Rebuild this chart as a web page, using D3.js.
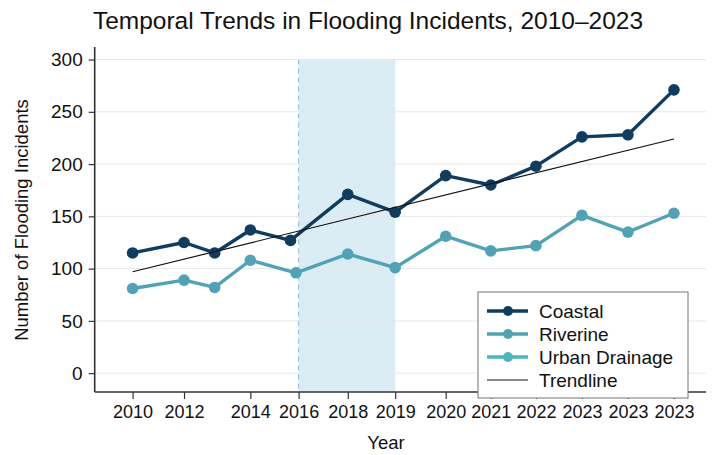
<!DOCTYPE html>
<meta charset="utf-8">
<head>
    <title>Flooding incidents</title>
    <style>
        body { margin: 0; background: #fff; }
        text { font-family: "Liberation Sans", Arial, sans-serif; fill: #111; }
    </style>
</head>
<body>
<div id="my_dataviz"></div>
<script src="https://d3js.org/d3.v7.min.js"></script>
<script>

    // values (x is the plotted position along the axis)
    var coastalX   = [0, 1.14, 1.82, 2.61, 3.5, 4.77, 5.82, 6.94, 7.94, 8.94, 9.96, 10.98, 12];
    var coastalY   = [115, 125, 115, 137, 127, 171, 154, 189, 180, 198, 226, 228, 271];
    var riverineX  = [0, 1.14, 1.82, 2.61, 3.62, 4.77, 5.82, 6.94, 7.94, 8.94, 9.96, 10.98, 12];
    var riverineY  = [81, 89, 82, 108, 96, 114, 101, 131, 117, 122, 151, 135, 153];
    var urbanX = [];
    var urbanY = [];
    var trendX = [0, 12];
    var trendY = [97, 224];

    var tickPos    = [0, 1.14, 2.61, 3.68, 4.77, 5.82, 6.94, 7.94, 8.94, 9.96, 10.98, 12];
    var tickLabels = ["2010", "2012", "2014", "2016", "2018", "2019", "2020", "2021", "2022", "2023", "2023", "2023"];
    var yTicks = [0, 50, 100, 150, 200, 250, 300];

    var shadeFrom = 3.68, shadeTo = 5.82;

    var seriesNames = ["Coastal", "Riverine", "Urban Drainage", "Trendline"];
    var coastalColor = "#0f3d61",
        riverColor = "#4fa3b9",
        urbanColor = "#49b7c1";

    var width = 713, height = 455;
    var svg = d3.select("#my_dataviz")
        .append("svg")
        .attr("width", width)
        .attr("height", height);

    var x = d3.scaleLinear().domain([-0.84, 12.71]).range([94.7, 706]);
    var y = d3.scaleLinear().domain([-18, 312]).range([392, 47]);

    // shaded period + dashed marker
    svg.append("rect")
        .attr("x", x(shadeFrom))
        .attr("y", y(300))
        .attr("width", x(shadeTo) - x(shadeFrom))
        .attr("height", y(-18) - y(300))
        .style("fill", "#daedf4");
    svg.append("line")
        .attr("x1", x(shadeFrom)).attr("x2", x(shadeFrom))
        .attr("y1", y(300)).attr("y2", y(-18))
        .style("stroke", "#98c9d9")
        .style("stroke-width", 1.2)
        .style("stroke-dasharray", "5,4");

    // grid
    svg.append("g")
        .selectAll("line")
        .data(yTicks)
        .enter()
        .append("line")
        .attr("x1", x(-0.84)).attr("x2", x(12.71))
        .attr("y1", function(d) { return y(d) })
        .attr("y2", function(d) { return y(d) })
        .style("stroke", "#e6e6e6")
        .style("stroke-width", 1);

    // axes
    var yAxis = svg.append("g")
        .attr("transform", "translate(" + x(-0.84) + ",0)")
        .call(d3.axisLeft(y).tickValues(yTicks).tickSize(6).tickPadding(6));
    var xAxis = svg.append("g")
        .attr("transform", "translate(0," + y(-18) + ")")
        .call(d3.axisBottom(x).tickValues(tickPos).tickSize(7).tickPadding(6)
            .tickFormat(function(d, i) { return tickLabels[i] }));
    [xAxis, yAxis].forEach(function(a) {
        a.select(".domain").style("stroke", "#333").style("stroke-width", 1.6)
        a.selectAll(".tick line").style("stroke", "#333").style("stroke-width", 1.2)
        a.selectAll("text").style("font-size", "18px").style("font-family", "Liberation Sans, Arial, sans-serif").style("fill", "#111")
    });
    // the L-shaped frame has no outer tick ends
    yAxis.select(".domain").attr("d", "M0," + y(312) + "V" + y(-18));
    xAxis.select(".domain").attr("d", "M" + x(-0.84) + ",0H" + x(12.71));
    yAxis.selectAll("text").style("font-size", "19px");

    // lines
    function drawSeries(xs, ys, color) {
        var pts = xs.map(function(v, i) { return [v, ys[i]] });
        svg.append("path")
            .datum(pts)
            .attr("d", d3.line().x(function(d) { return x(d[0]) }).y(function(d) { return y(d[1]) }))
            .style("fill", "none")
            .style("stroke", color)
            .style("stroke-width", 3.4)
            .style("stroke-linejoin", "round");
        svg.selectAll()
            .data(pts)
            .enter()
            .append("circle")
            .attr("cx", function(d) { return x(d[0]) })
            .attr("cy", function(d) { return y(d[1]) })
            .attr("r", 5.8)
            .style("fill", color);
    }
    drawSeries(riverineX, riverineY, riverColor);
    drawSeries(urbanX, urbanY, urbanColor);
    drawSeries(coastalX, coastalY, coastalColor);

    svg.append("line")
        .attr("x1", x(trendX[0])).attr("y1", y(trendY[0]))
        .attr("x2", x(trendX[1])).attr("y2", y(trendY[1]))
        .style("stroke", "#111")
        .style("stroke-width", 1.2);

    // titles
    svg.append("text")
        .attr("x", 368).attr("y", 29)
        .style("text-anchor", "middle")
        .style("font-size", "24.5px")
        .text("Temporal Trends in Flooding Incidents, 2010\u20132023");
    svg.append("text")
        .attr("transform", "translate(28,220) rotate(-90)")
        .style("text-anchor", "middle")
        .style("font-size", "18.5px")
        .text("Number of Flooding Incidents");
    svg.append("text")
        .attr("x", 386).attr("y", 449)
        .style("text-anchor", "middle")
        .style("font-size", "18.5px")
        .text("Year");

    // legend
    var legendColors = [coastalColor, riverColor, urbanColor, "#111"];
    var lg = svg.append("g").attr("transform", "translate(478,292)");
    lg.append("rect")
        .attr("width", 210).attr("height", 106)
        .style("fill", "#fff")
        .style("stroke", "#777")
        .style("stroke-width", 1);
    var item = lg.selectAll(".item")
        .data(seriesNames)
        .enter()
        .append("g")
        .attr("transform", function(d, i) { return "translate(0," + (19 + i * 23) + ")" });
    item.append("line")
        .attr("x1", 9).attr("x2", 50)
        .style("stroke", function(d, i) { return legendColors[i] })
        .style("stroke-width", function(d, i) { return i == 3 ? 1.2 : 3.4 });
    item.filter(function(d, i) { return i < 3 })
        .append("circle")
        .attr("cx", 30).attr("r", 5)
        .style("fill", function(d, i) { return legendColors[i] });
    item.append("text")
        .attr("x", 61).attr("y", 6.5)
        .style("font-size", "19px")
        .text(function(d) { return d });

</script>
</body>
